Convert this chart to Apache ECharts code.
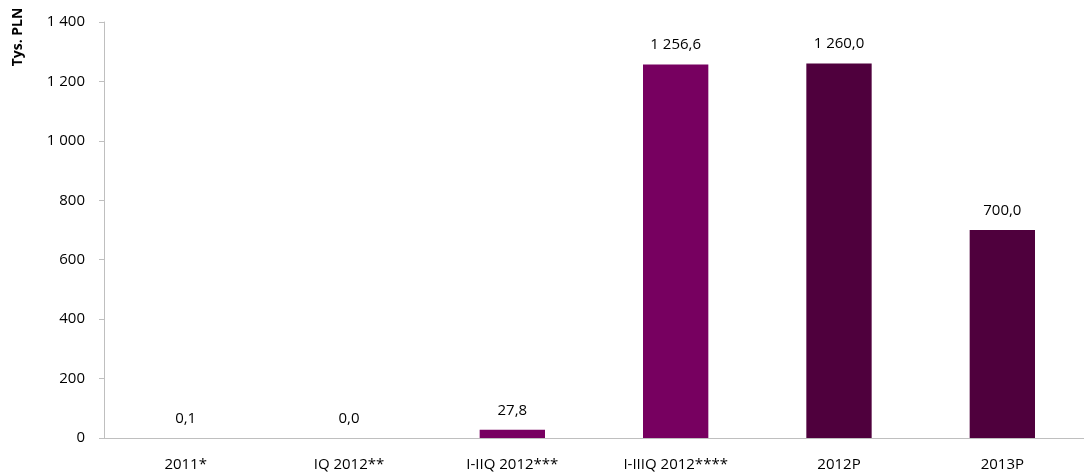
<!DOCTYPE html>
<html>
<head>
    <meta charset="UTF-8">
    <script src="https://cdn.jsdelivr.net/npm/echarts@6/dist/echarts.min.js"></script>
    <title>Tys. PLN</title>
</head>
<body style="margin:0;background:#fff;">
    <div id="box" style="width:1084px;height:476px;"></div>
    <script>
        var categories = ['2011*', 'IQ 2012**', 'I-IIQ 2012***', 'I-IIIQ 2012****', '2012P', '2013P'];
        var values = [0.1, 0.0, 27.8, 1256.6, 1260.0, 700.0];
        var barColors = ['#770060', '#770060', '#770060', '#770060', '#4f003d', '#4f003d'];
        var yTicks = [0, 200, 400, 600, 800, 1000, 1200, 1400];

        // 1 256,6 style numbers
        function fmt(v, dec) {
            var s = v.toFixed(dec).replace('.', ',');
            var parts = s.split(',');
            parts[0] = parts[0].replace(/\B(?=(\d{3})+(?!\d))/g, ' ');
            return parts.join(',');
        }

        var font = 'Open Sans';
        var chart = echarts.init(document.getElementById('box'));

        chart.setOption({
            animation: false,
            grid: { left: 104, top: 22, width: 990, height: 416 },
            graphic: [{
                type: 'text',
                x: 18, y: 37,
                rotation: Math.PI / 2,
                style: {
                    text: 'Tys. PLN',
                    fontFamily: font, fontSize: 14, fontWeight: 'bold',
                    fill: '#000', align: 'center', verticalAlign: 'middle'
                }
            }],
            xAxis: {
                type: 'category',
                data: categories,
                axisLine: { lineStyle: { color: '#bfbfbf' } },
                axisTick: { length: 5, lineStyle: { color: '#bfbfbf' } },
                axisLabel: { color: '#000', fontFamily: font, fontSize: 15, margin: 19, interval: 0 }
            },
            yAxis: {
                type: 'value',
                min: yTicks[0], max: yTicks[yTicks.length - 1], interval: 200,
                axisLine: { show: true, lineStyle: { color: '#bfbfbf' } },
                axisTick: { show: true, length: 5, lineStyle: { color: '#bfbfbf' } },
                splitLine: { show: false },
                axisLabel: {
                    color: '#000', fontFamily: font, fontSize: 15, margin: 19,
                    formatter: function (v) { return fmt(v, 0); }
                }
            },
            series: [{
                type: 'bar',
                barWidth: '40%',
                data: values.map(function (v, i) {
                    return { value: v, itemStyle: { color: barColors[i] } };
                }),
                label: {
                    show: true, position: 'top', distance: 12,
                    color: '#000', fontFamily: font, fontSize: 15,
                    formatter: function (p) { return fmt(p.value, 1); }
                }
            }]
        });
    </script>
</body>
</html>
